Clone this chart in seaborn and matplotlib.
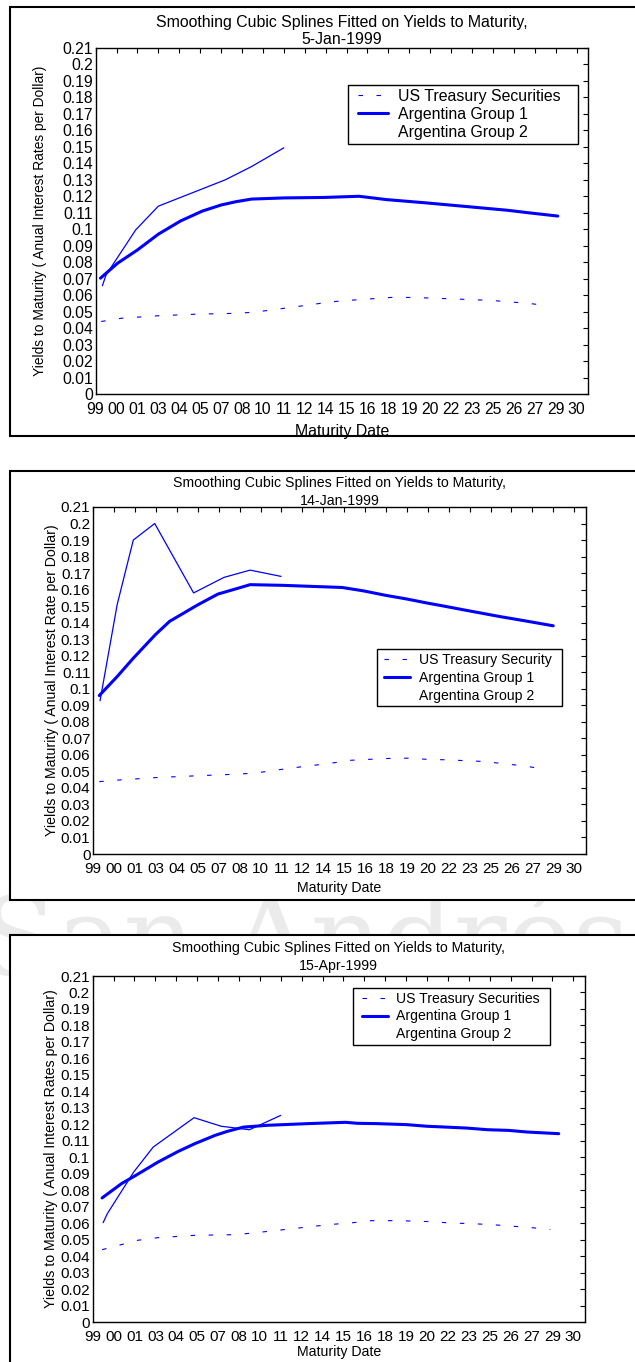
import numpy as np
import pandas as pd
import matplotlib
matplotlib.use("Agg")
import matplotlib.pyplot as plt
from matplotlib.patches import Rectangle
from matplotlib.lines import Line2D
from matplotlib.legend_handler import HandlerLine2D
import seaborn as sns

# ---------------- data ----------------
x_tick_labels = ["99", "00", "01", "03", "04", "05", "07", "08", "10", "11", "12", "14",
                 "15", "16", "18", "19", "20", "22", "23", "25", "26", "27", "29", "30"]
x_tick_start = 1999.0
x_tick_step = 1.377
y_ticks = [round(0.01 * i, 2) for i in range(22)]

titles = ["Smoothing Cubic Splines Fitted on Yields to Maturity,\n5-Jan-1999",
          "Smoothing Cubic Splines Fitted on Yields to Maturity,\n14-Jan-1999",
          "Smoothing Cubic Splines Fitted on Yields to Maturity,\n15-Apr-1999"]
ylabels = ["Yields to Maturity ( Anual Interest Rates per Dollar)",
           "Yields to Maturity ( Anual Interest Rate per Dollar)",
           "Yields to Maturity ( Anual Interest Rates per Dollar)"]
xlabel = "Maturity Date"
legend_labels = [["US Treasury Securities", "Argentina Group 1", "Argentina Group 2"],
                 ["US Treasury Security", "Argentina Group 1", "Argentina Group 2"],
                 ["US Treasury Securities", "Argentina Group 1", "Argentina Group 2"]]
watermark = "San Andrés"

# Panel 1: 5-Jan-1999
p1_us_x = [1999.37, 2000.71, 2003.13, 2005.75, 2008.50, 2009.74, 2012.22, 2014.56, 2015.94,
           2018.42, 2019.79, 2022.37, 2025.03, 2027.50, 2028.88]
p1_us_y = [0.0440, 0.0460, 0.0475, 0.0485, 0.0490, 0.0500, 0.0530, 0.0560, 0.0570,
           0.0586, 0.0586, 0.0578, 0.0568, 0.0550, 0.0535]
p1_g1_x = [1999.32, 2000.45, 2001.75, 2003.13, 2004.59, 2006.02, 2007.26, 2008.23, 2009.26,
           2011.39, 2014.08, 2016.35, 2018.14, 2020.76, 2023.51, 2026.13, 2027.50, 2029.43]
p1_g1_y = [0.0703, 0.0794, 0.0874, 0.0970, 0.1050, 0.1110, 0.1147, 0.1167, 0.1183,
           0.1190, 0.1193, 0.1200, 0.1180, 0.1160, 0.1137, 0.1115, 0.1100, 0.1080]
p1_g2_x = [1999.45, 1999.69, 2001.64, 2003.13, 2007.54, 2009.26, 2011.39]
p1_g2_y = [0.0658, 0.0723, 0.0996, 0.1140, 0.1300, 0.1380, 0.1494]

# Panel 2: 14-Jan-1999
p2_us_x = [1999.40, 2000.72, 2003.24, 2005.75, 2008.41, 2009.60, 2011.94, 2014.63, 2015.94,
           2018.28, 2019.66, 2020.98, 2022.27, 2024.68, 2025.99, 2027.37, 2028.61]
p2_us_y = [0.0438, 0.0448, 0.0463, 0.0473, 0.0483, 0.0489, 0.0519, 0.0549, 0.0567,
           0.0578, 0.0580, 0.0573, 0.0570, 0.0560, 0.0547, 0.0533, 0.0515]
p2_g1_x = [1999.40, 2000.58, 2001.64, 2003.10, 2004.03, 2005.89, 2007.21, 2008.78, 2009.33,
           2011.45, 2015.39, 2016.76, 2018.28, 2019.66, 2020.98, 2021.99, 2023.37, 2025.71,
           2027.37, 2029.29]
p2_g1_y = [0.0959, 0.1074, 0.1185, 0.1328, 0.1408, 0.1508, 0.1573, 0.1615, 0.1630,
           0.1626, 0.1613, 0.1593, 0.1565, 0.1543, 0.1519, 0.1502, 0.1478, 0.1438,
           0.1412, 0.1381]
p2_g2_x = [1999.45, 2000.58, 2001.64, 2003.05, 2005.61, 2007.61, 2009.33, 2011.37]
p2_g2_y = [0.0927, 0.1510, 0.1900, 0.2000, 0.1580, 0.1674, 0.1718, 0.1680]

# Panel 3: 15-Apr-1999
p3_us_x = [1999.62, 2000.90, 2001.97, 2003.31, 2005.72, 2008.41, 2009.74, 2012.15, 2013.46,
           2014.84, 2016.17, 2017.38, 2018.69, 2019.93, 2021.31, 2022.55, 2023.92, 2025.30,
           2026.40, 2027.64, 2029.16]
p3_us_y = [0.0439, 0.0470, 0.0496, 0.0512, 0.0526, 0.0530, 0.0542, 0.0566, 0.0580,
           0.0593, 0.0603, 0.0615, 0.0615, 0.0613, 0.0609, 0.0601, 0.0597, 0.0591,
           0.0583, 0.0575, 0.0562]
p3_g1_x = [1999.62, 2000.90, 2001.84, 2003.31, 2004.65, 2005.72, 2007.07, 2007.87, 2008.94,
           2010.54, 2011.61, 2013.18, 2015.66, 2016.43, 2017.73, 2019.66, 2021.03, 2022.27,
           2023.65, 2025.03, 2026.40, 2027.64, 2029.71]
p3_g1_y = [0.0753, 0.0840, 0.0890, 0.0971, 0.1036, 0.1082, 0.1133, 0.1157, 0.1183,
           0.1194, 0.1198, 0.1204, 0.1212, 0.1206, 0.1204, 0.1198, 0.1188, 0.1183,
           0.1177, 0.1167, 0.1163, 0.1153, 0.1143]
p3_g2_x = [1999.69, 1999.96, 2001.70, 2002.99, 2005.68, 2007.47, 2009.33, 2011.39]
p3_g2_y = [0.0603, 0.0657, 0.0910, 0.1062, 0.1240, 0.1188, 0.1167, 0.1254]

panels = [
    (p1_us_x, p1_us_y, p1_g1_x, p1_g1_y, p1_g2_x, p1_g2_y),
    (p2_us_x, p2_us_y, p2_g1_x, p2_g1_y, p2_g2_x, p2_g2_y),
    (p3_us_x, p3_us_y, p3_g1_x, p3_g1_y, p3_g2_x, p3_g2_y),
]

# ---------------- style ----------------
sns.set_style("white")
plt.rcParams["font.family"] = ["Liberation Sans", "DejaVu Sans"]
plt.rcParams["axes.edgecolor"] = "black"
plt.rcParams["text.color"] = "black"
plt.rcParams["axes.labelcolor"] = "black"
plt.rcParams["xtick.color"] = "black"
plt.rcParams["ytick.color"] = "black"

W, H = 635, 1362
fig = plt.figure(figsize=(W / 100, H / 100), dpi=100)
fig.patch.set_facecolor("white")


def fx(px):
    return px / W


def fy(py):
    return 1 - py / H


# faint watermark behind the panels
fig.text(fx(305), fy(975), watermark, fontsize=80, color="#ebebeb",
         family=["DejaVu Serif"], ha="center", va="baseline", zorder=-3)

# panel frames (px): left, top, right, bottom
frames = [(9.7, 7, 700, 436), (9.7, 471, 700, 900), (9.7, 935, 700, 1420)]
for l, t, r, b in frames:
    fig.patches.append(Rectangle((fx(l), fy(b)), fx(r) - fx(l), fy(t) - fy(b),
                                 transform=fig.transFigure, facecolor="white",
                                 edgecolor="black", linewidth=1.5, zorder=-1))

# axes boxes (px): left, top, right, bottom
axes_px = [(95.6, 48, 588.1, 394), (93.2, 507, 585.7, 854), (92.7, 976, 584.8, 1322)]
fs_title = [11.4, 10.2, 10.2]
fs_tick = [11.3, 11.0, 11.0]
fs_ylab = [9.9, 10.2, 10.2]
fs_leg = [11.4, 10.1, 10.1]
title_pad = [3.2, 1.6, 4.6]
title_ls = [1.15, 1.3, 1.35]
xlab_pad = [5.1, 3.7, 0.8]
ylab_x = [-0.0995, -0.070, -0.0715]
# legend boxes (px): left, top, right, bottom
leg_px = [(348, 85, 578, 143), (376.7, 649, 562.2, 707), (352.8, 988, 550, 1045)]
leg_xpad = [0.38, 0.27, 0.39]
leg_hlen = [2.28, 2.13, 2.24]
leg_tpad = [0.63, 0.64, 0.60]
leg_lspace = [0.19, 0.30, 0.28]

blue = "#0000ff"
dash_style = (0, (4, 12.2))
x_ticks = [x_tick_start + i * x_tick_step for i in range(len(x_tick_labels))]
x_max = x_tick_start + 23.55 * x_tick_step

for k, (usx, usy, g1x, g1y, g2x, g2y) in enumerate(panels):
    l, t, r, b = axes_px[k]
    ax = fig.add_axes([fx(l), fy(b), fx(r) - fx(l), fy(t) - fy(b)])
    ax.set_facecolor("white")

    sns.lineplot(x=usx, y=usy, ax=ax, color=blue, linewidth=0.8,
                 linestyle=dash_style, estimator=None, sort=False)
    sns.lineplot(x=g1x, y=g1y, ax=ax, color=blue, linewidth=2.2,
                 estimator=None, sort=False)
    sns.lineplot(x=g2x, y=g2y, ax=ax, color=blue, linewidth=0.9,
                 estimator=None, sort=False)

    ax.set_xlim(x_tick_start, x_max)
    ax.set_ylim(0, 0.21)
    ax.set_xticks(x_ticks)
    ax.set_xticklabels(x_tick_labels)
    ax.set_yticks(y_ticks)
    ax.set_yticklabels([f"{v:g}" for v in y_ticks])
    ax.tick_params(direction="in", length=3.6, width=0.8, top=True, right=True,
                   labelsize=fs_tick[k])
    ax.tick_params(axis="y", pad=2.0)
    ax.tick_params(axis="x", pad=5.8)
    for s in ax.spines.values():
        s.set_visible(True)
        s.set_linewidth(1.0)
        s.set_color("black")

    ax.set_title(titles[k], fontsize=fs_title[k], pad=title_pad[k],
                 linespacing=title_ls[k])
    ax.set_xlabel(xlabel, fontsize=fs_title[k], labelpad=xlab_pad[k])
    ax.set_ylabel(ylabels[k], fontsize=fs_ylab[k])
    ax.yaxis.set_label_coords(ylab_x[k], 0.5)

    ll, lt, lr, lb = leg_px[k]
    bx0 = (ll - l) / (r - l)
    by0 = (b - lb) / (b - t)
    bw = (lr - ll) / (r - l)
    bh = (lb - lt) / (b - t)
    h_us = Line2D([], [], color=blue, linewidth=0.8, linestyle=dash_style)
    h_g1 = Line2D([], [], color=blue, linewidth=2.2)
    h_g2 = Line2D([], [], color="none", linewidth=0.9)
    handler = HandlerLine2D(xpad=leg_xpad[k])
    leg = ax.legend([h_us, h_g1, h_g2], legend_labels[k], loc="upper left",
                    bbox_to_anchor=(bx0, by0, bw, bh), mode="expand",
                    borderaxespad=0, frameon=True, fancybox=False,
                    fontsize=fs_leg[k], handlelength=leg_hlen[k],
                    handletextpad=leg_tpad[k], borderpad=0.25,
                    labelspacing=leg_lspace[k],
                    handler_map={Line2D: handler})
    fr = leg.get_frame()
    fr.set_edgecolor("black")
    fr.set_linewidth(1.0)
    fr.set_alpha(1)

fig.savefig("out.png", dpi=100, facecolor="white")
